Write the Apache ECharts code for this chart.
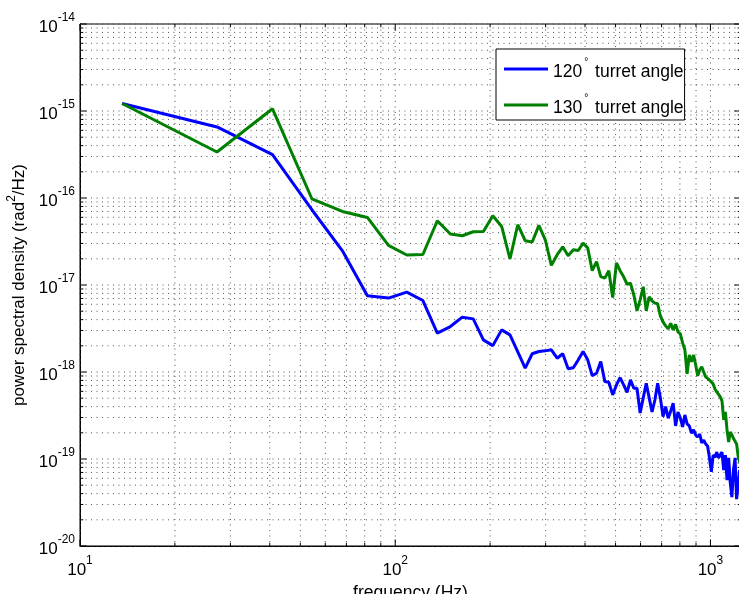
<!DOCTYPE html>
<html>
<head>
<meta charset="utf-8">
<script src="https://cdn.jsdelivr.net/npm/echarts@6/dist/echarts.min.js"></script>
<style>
  html, body { margin: 0; padding: 0; background: #fff; }
  #chart { width: 739px; height: 594px; }
</style>
</head>
<body>
<div id="chart"></div>
<script>
// Frequency bins (Hz)
const freqHz = [
  13.6, 27.2, 40.8, 54.4, 68, 81.6, 95.2, 108.8, 122.4, 136,
  149.6, 163.2, 176.8, 190.4, 204, 217.6, 231.2, 244.8, 258.4, 272,
  285.6, 299.2, 312.8, 326.4, 340, 353.6, 367.2, 380.8, 394.4, 408,
  421.6, 435.2, 448.8, 462.4, 476, 489.6, 503.2, 516.8, 530.4, 544,
  557.6, 571.2, 584.8, 598.4, 612, 625.6, 639.2, 652.8, 666.4, 680,
  693.6, 707.2, 720.8, 734.4, 748, 761.6, 775.2, 788.8, 802.4, 816,
  829.6, 843.2, 856.8, 870.4, 884, 897.6, 911.2, 924.8, 938.4, 952,
  965.6, 979.2, 992.8, 1006.4, 1020, 1033.6, 1047.2, 1060.8, 1074.4, 1088,
  1101.6, 1115.2, 1128.8, 1142.4, 1156, 1169.6, 1183.2, 1196.8, 1210.4, 1224,
  1237.6
];

// Power spectral density, 120 deg turret angle (rad^2/Hz)
const psd120 = [
  1.22e-15, 6.56e-16, 3.15e-16, 7.33e-17, 2.47e-17, 7.51e-18, 7.07e-18, 8.29e-18, 6.63e-18, 2.80e-18,
  3.33e-18, 4.27e-18, 4.08e-18, 2.34e-18, 2.01e-18, 3.05e-18, 2.67e-18, 1.70e-18, 1.11e-18, 1.62e-18,
  1.72e-18, 1.75e-18, 1.80e-18, 1.44e-18, 1.62e-18, 1.09e-18, 1.12e-18, 1.38e-18, 1.72e-18, 1.38e-18,
  9.09e-19, 9.69e-19, 1.32e-18, 7.76e-19, 7.63e-19, 5.45e-19, 7.10e-19, 8.62e-19, 7.10e-19, 5.85e-19,
  8.11e-19, 6.51e-19, 6.51e-19, 3.38e-19, 5.04e-19, 7.43e-19, 5.04e-19, 3.47e-19, 4.77e-19, 7.43e-19,
  5.04e-19, 3.07e-19, 4.00e-19, 2.94e-19, 3.57e-19, 4.38e-19, 2.40e-19, 3.47e-19, 2.96e-19, 2.34e-19,
  3.21e-19, 2.53e-19, 2.40e-19, 1.98e-19, 2.16e-19, 1.89e-19, 1.79e-19, 1.94e-19, 1.53e-19, 1.65e-19,
  1.49e-19, 1.41e-19, 1.03e-19, 7.14e-20, 1.11e-19, 1.05e-19, 1.20e-19, 1.03e-19, 1.03e-19, 1.20e-19,
  7.47e-20, 1.11e-19, 5.73e-20, 1.03e-19, 5.29e-20, 3.65e-20, 7.47e-20, 1.03e-19, 3.46e-20, 5.02e-20,
  7.47e-20
];

// Power spectral density, 130 deg turret angle (rad^2/Hz)
const psd130 = [
  1.22e-15, 3.38e-16, 1.06e-15, 9.8e-17, 7.01e-17, 5.98e-17, 2.85e-17, 2.21e-17, 2.24e-17, 5.48e-17,
  3.85e-17, 3.68e-17, 4.09e-17, 4.13e-17, 6.26e-17, 4.71e-17, 1.99e-17, 4.93e-17, 3.23e-17, 3.12e-17,
  4.84e-17, 3.31e-17, 1.68e-17, 2.23e-17, 2.75e-17, 2.17e-17, 2.54e-17, 2.49e-17, 3.03e-17, 2.66e-17,
  1.46e-17, 1.86e-17, 1.25e-17, 1.20e-17, 1.46e-17, 7.18e-18, 1.79e-17, 1.46e-17, 1.24e-17, 1.02e-17,
  1.05e-17, 7.71e-18, 5.05e-18, 6.76e-18, 9.54e-18, 5.05e-18, 7.31e-18, 6.58e-18, 6.19e-18, 6.08e-18,
  4.42e-18, 3.77e-18, 3.39e-18, 3.13e-18, 3.62e-18, 3.05e-18, 3.53e-18, 2.89e-18, 2.74e-18, 2.16e-18,
  1.80e-18, 9.51e-19, 1.57e-18, 1.31e-18, 1.57e-18, 1.21e-18, 9.02e-19, 1.06e-18, 1.15e-18, 1.00e-18,
  8.78e-19, 8.33e-19, 8.11e-19, 7.80e-19, 7.30e-19, 6.39e-19, 5.90e-19, 5.60e-19, 5.17e-19, 4.65e-19,
  2.81e-19, 3.47e-19, 2.16e-19, 1.57e-19, 2.04e-19, 1.89e-19, 1.72e-19, 1.65e-19, 1.49e-19, 1.08e-19,
  9.24e-20
];

const seriesNames = ['120° turret angle', '130° turret angle'];

// Decade exponents carrying tick labels
const xExponents = [1, 2, 3];
const yExponents = [-20, -19, -18, -17, -16, -15, -14];
const mantissas = [1, 2, 3, 4, 5, 6, 7, 8, 9];

const X_MIN = 10, X_MAX = 1250;
const Y_MIN = 1e-20, Y_MAX = 1e-14;
const FONT = '"Liberation Sans", Arial, Helvetica, sans-serif';

// Log grid positions (1..9 x 10^n) inside the axis ranges
const xGrid = [];
xExponents.forEach(e => mantissas.forEach(m => {
  const v = m * Math.pow(10, e);
  if (v >= X_MIN && v <= X_MAX) xGrid.push([v, Y_MIN, m === 1 ? 1 : 0]);
}));
const yGrid = [];
yExponents.forEach(e => mantissas.forEach(m => {
  const v = m * Math.pow(10, e);
  if (v >= Y_MIN * 0.999 && v <= Y_MAX * 1.001) yGrid.push([X_MIN, v, m === 1 ? 1 : 0]);
}));

const DOT = { stroke: '#555', lineWidth: 1, lineDash: [1, 4.5] };
const TICK = { stroke: '#000', lineWidth: 1 };

function renderXGrid(params, api) {
  const v = api.value(0);
  const len = api.value(2) === 1 ? 6.6 : 3.3;
  const b = api.coord([v, Y_MIN]);
  const t = api.coord([v, Y_MAX]);
  return {
    type: 'group',
    children: [
      { type: 'line', shape: { x1: b[0], y1: t[1], x2: b[0], y2: b[1] }, style: DOT },
      { type: 'line', shape: { x1: b[0], y1: b[1], x2: b[0], y2: b[1] - len }, style: TICK },
      { type: 'line', shape: { x1: b[0], y1: t[1], x2: b[0], y2: t[1] + len }, style: TICK }
    ]
  };
}

function renderYGrid(params, api) {
  const v = api.value(1);
  const len = api.value(2) === 1 ? 6.6 : 3.3;
  const l = api.coord([X_MIN, v]);
  const r = api.coord([X_MAX, v]);
  return {
    type: 'group',
    children: [
      { type: 'line', shape: { x1: l[0], y1: l[1], x2: r[0], y2: l[1] }, style: DOT },
      { type: 'line', shape: { x1: l[0], y1: l[1], x2: l[0] + len, y2: l[1] }, style: TICK },
      { type: 'line', shape: { x1: r[0], y1: l[1], x2: r[0] - len, y2: l[1] }, style: TICK }
    ]
  };
}

const powRich = {
  b: { fontFamily: FONT, fontSize: 17, color: '#000', lineHeight: 24, verticalAlign: 'bottom' },
  e: { fontFamily: FONT, fontSize: 12, color: '#000', lineHeight: 9, verticalAlign: 'top' }
};

const chart = echarts.init(document.getElementById('chart'), null, { renderer: 'canvas' });

chart.setOption({
  animation: false,
  backgroundColor: '#fff',
  grid: {
    left: 80, top: 24, width: 661, height: 522,
    outerBoundsMode: 'none', containLabel: false,
    show: true, borderColor: '#000', borderWidth: 1, backgroundColor: 'transparent'
  },
  xAxis: {
    type: 'log', logBase: 10, min: X_MIN, max: X_MAX, interval: 1,
    axisLine: { show: true, lineStyle: { color: '#000', width: 1 } },
    axisTick: { show: false },
    splitLine: { show: false },
    minorTick: { show: false },
    axisLabel: {
      margin: 9, showMaxLabel: false, showMinLabel: true,
      formatter: (v, i) => xExponents[i] === undefined ? '' : '{b|10}{e|' + xExponents[i] + '}',
      rich: powRich
    },
    name: 'frequency (Hz)', nameLocation: 'middle', nameGap: 32,
    nameTextStyle: { fontFamily: FONT, fontSize: 17.5, color: '#000' }
  },
  yAxis: {
    type: 'log', logBase: 10, min: Y_MIN, max: Y_MAX, interval: 1,
    axisLine: { show: true, lineStyle: { color: '#000', width: 1 } },
    axisTick: { show: false },
    splitLine: { show: false },
    minorTick: { show: false },
    axisLabel: {
      margin: 5,
      formatter: (v, i) => yExponents[i] === undefined ? '' : '{b|10}{e|' + yExponents[i] + '}',
      rich: powRich
    },
    name: '{t|power spectral density (rad}{s|2}{t|/Hz)}',
    nameLocation: 'middle', nameGap: 52,
    nameTextStyle: {
      rich: {
        t: { fontFamily: FONT, fontSize: 17, color: '#000', lineHeight: 22, verticalAlign: 'bottom' },
        s: { fontFamily: FONT, fontSize: 12, color: '#000', lineHeight: 9, verticalAlign: 'top' }
      }
    }
  },
  legend: {
    data: seriesNames,
    orient: 'vertical',
    left: 496, top: 49,
    padding: [8, 1, 3, 8],
    itemWidth: 44, itemHeight: 3, itemGap: 12,
    icon: 'rect',
    borderColor: '#000', borderWidth: 1, borderRadius: 0,
    backgroundColor: '#fff',
    selectedMode: false,
    formatter: name => {
      const m = name.match(/^(\d+)°(.*)$/);
      return '{n|' + m[1] + '}{d|°}{n|' + m[2] + '}';
    },
    textStyle: {
      fontFamily: FONT, fontSize: 17.5, color: '#000',
      rich: {
        n: { fontFamily: FONT, fontSize: 17.5, color: '#000', lineHeight: 24, verticalAlign: 'bottom' },
        d: { fontFamily: FONT, fontSize: 10, color: '#000', lineHeight: 10, verticalAlign: 'top', padding: [0, 2, 0, 2] }
      }
    }
  },
  series: [
    {
      type: 'custom', name: 'xgrid', coordinateSystem: 'cartesian2d',
      renderItem: renderXGrid, data: xGrid, encode: { x: 0, y: 1 },
      silent: true, z: 1
    },
    {
      type: 'custom', name: 'ygrid', coordinateSystem: 'cartesian2d',
      renderItem: renderYGrid, data: yGrid, encode: { x: 0, y: 1 },
      silent: true, z: 1
    },
    {
      type: 'line', name: seriesNames[0],
      data: freqHz.map((f, i) => [f, psd120[i]]),
      showSymbol: false, symbol: 'none',
      lineStyle: { color: '#0000ff', width: 3 },
      itemStyle: { color: '#0000ff' },
      z: 3
    },
    {
      type: 'line', name: seriesNames[1],
      data: freqHz.map((f, i) => [f, psd130[i]]),
      showSymbol: false, symbol: 'none',
      lineStyle: { color: '#008000', width: 3 },
      itemStyle: { color: '#008000' },
      z: 3
    }
  ]
});
</script>
</body>
</html>
